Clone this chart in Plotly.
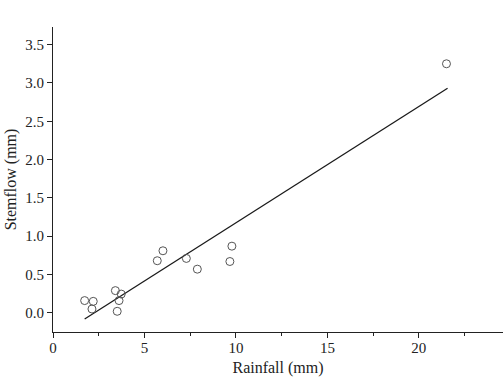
import plotly.graph_objects as go

rainfall = [1.73, 2.20, 2.13, 3.41, 3.73, 3.61, 3.51, 5.70, 6.01, 7.29, 7.89, 9.67, 9.78, 21.51]
stemflow = [0.16, 0.15, 0.05, 0.29, 0.245, 0.16, 0.02, 0.68, 0.81, 0.71, 0.57, 0.67, 0.87, 3.25]
fit_slope = 0.1517
fit_intercept = -0.342
fit_x = [1.73, 21.57]
fit_y = [fit_intercept + fit_slope * v for v in fit_x]

x_ticks = [0, 5, 10, 15, 20]
y_ticks = [0.0, 0.5, 1.0, 1.5, 2.0, 2.5, 3.0, 3.5]
x_max = 24.6

font = "Liberation Serif, Times New Roman, serif"

fig = go.Figure()
fig.add_trace(go.Scatter(x=fit_x, y=fit_y, mode="lines",
                         line=dict(color="#1a1a1a", width=1.3), showlegend=False))
fig.add_trace(go.Scatter(x=rainfall, y=stemflow, mode="markers",
                         marker=dict(symbol="circle-open", size=8,
                                     color="#555555", line=dict(width=1)),
                         showlegend=False, cliponaxis=False))

fig.update_layout(
    width=503, height=377,
    margin=dict(l=53, r=0, t=27, b=45),
    plot_bgcolor="white", paper_bgcolor="white",
    font=dict(family=font, size=15, color="#222222"),
    xaxis=dict(range=[0, x_max], tickvals=x_ticks, ticktext=[str(v) for v in x_ticks],
               showgrid=False, zeroline=False, showline=True, linecolor="#222222",
               linewidth=1, ticks="outside", ticklen=5, tickcolor="#222222",
               tickfont=dict(size=15), ticklabelstandoff=-3,
               minor=dict(tickvals=[2.5, 7.5, 12.5, 17.5, 22.5], ticks="outside",
                          ticklen=3, tickcolor="#222222"),
               title=dict(text="Rainfall (mm)", font=dict(size=16), standoff=9)),
    yaxis=dict(range=[-0.25, 3.73], tickvals=y_ticks,
               ticktext=[f"{v:.1f}" for v in y_ticks],
               showgrid=False, zeroline=False, showline=True, linecolor="#222222",
               linewidth=1, ticks="outside", ticklen=5, tickcolor="#222222",
               tickfont=dict(size=15),
               title=dict(text="Stemflow (mm)", font=dict(size=16), standoff=4)),
    annotations=[dict(text="25", xref="paper", yref="paper", x=25 / x_max, y=0,
                      yshift=-3, xanchor="center", yanchor="top", showarrow=False,
                      font=dict(family=font, size=15, color="#222222"))],
)

fig.write_html("out.html")
